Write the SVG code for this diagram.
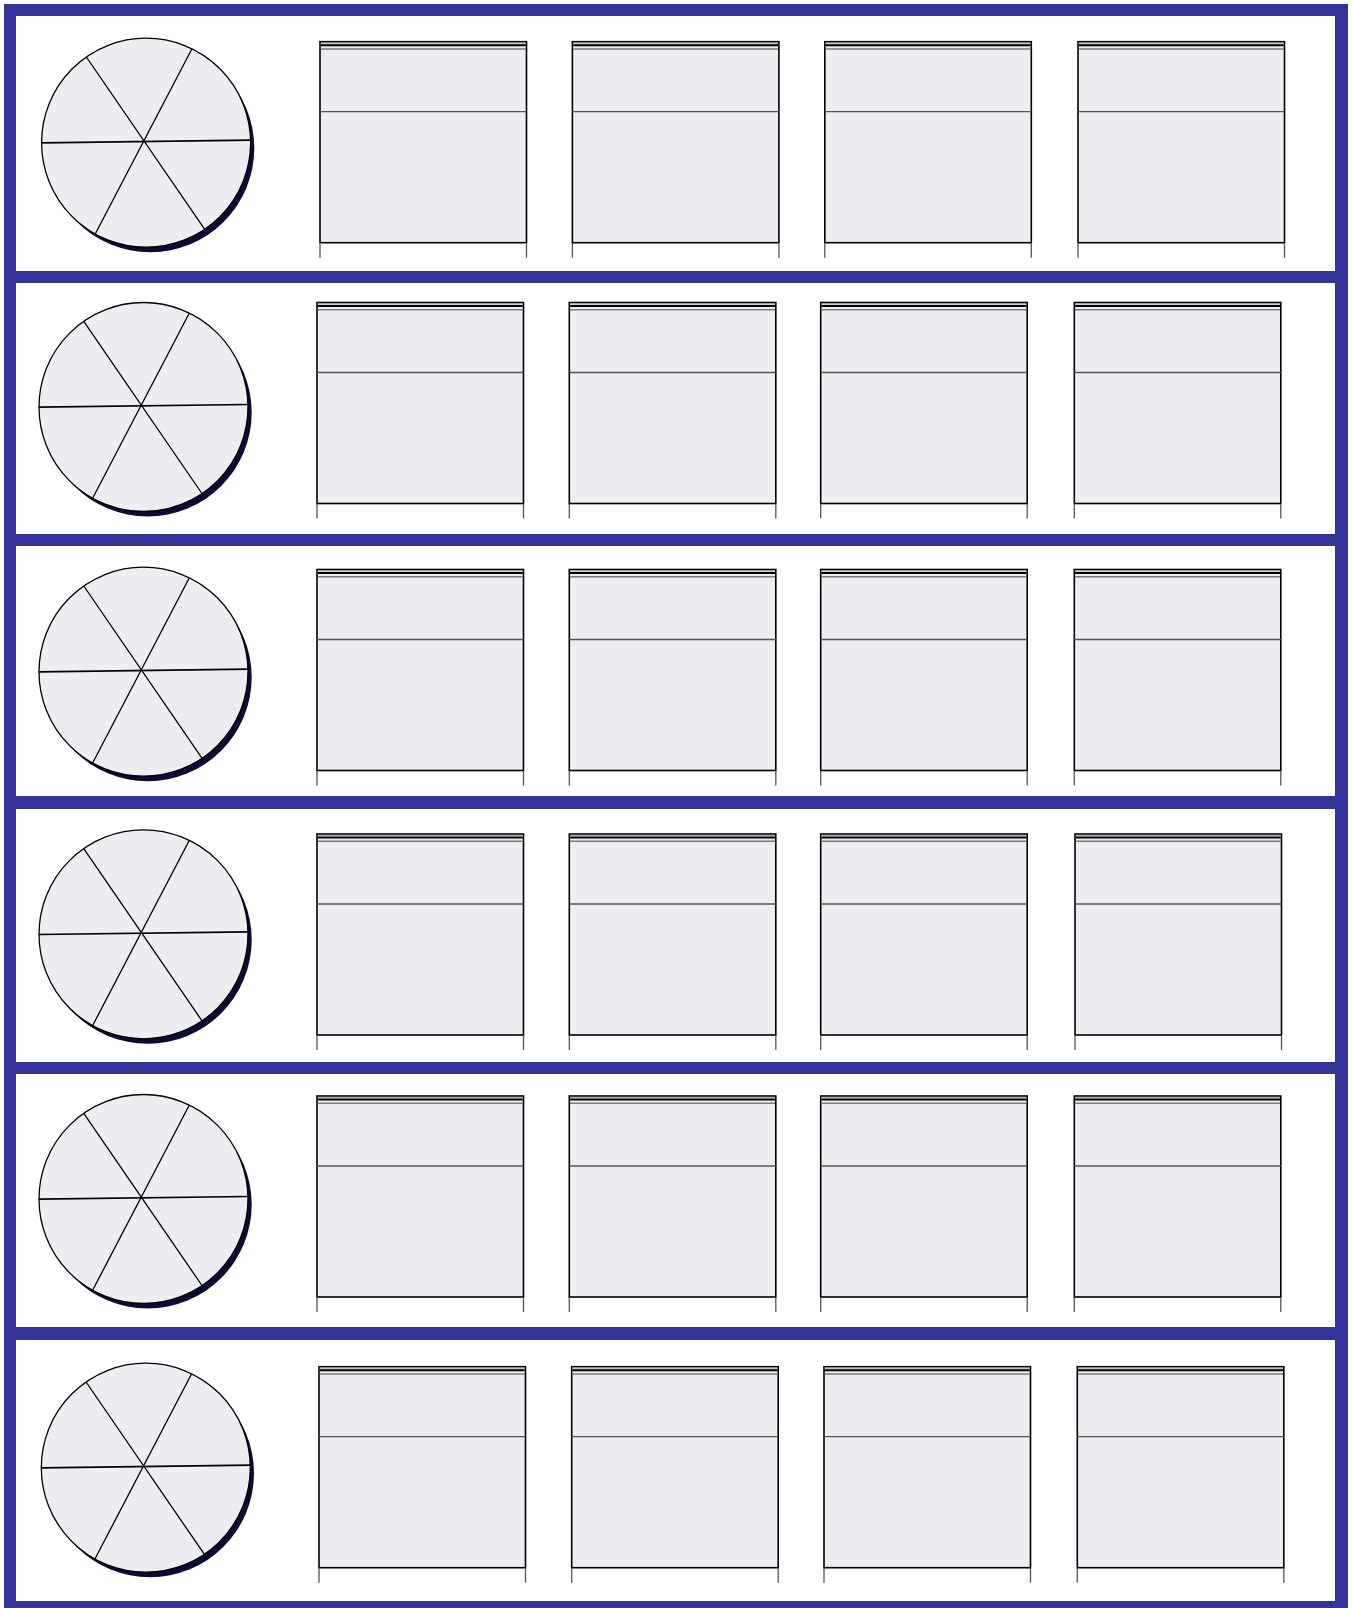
<svg xmlns="http://www.w3.org/2000/svg" xmlns:xlink="http://www.w3.org/1999/xlink" width="1352" height="1608" viewBox="0 0 1352 1608">
<style>
.frame{fill:#333399}
.face{fill:#ededf2;stroke:#000;stroke-width:1.3}
.shadow{fill:#0b0b35}
.spoke{stroke:#000;stroke-width:1.3;fill:none;stroke-linecap:round}
.hspoke{stroke:#000;stroke-width:1.7;fill:none}
.box{fill:#ededf2;stroke:#000;stroke-width:1.6}
.blk{stroke:#000;stroke-width:2;fill:none}
.gry{stroke:#7a7a7a;stroke-width:1.5;fill:none}
.lgt{stroke:#a0a0a0;stroke-width:1;fill:none}
.div{stroke:#555;stroke-width:1.3;fill:none}
.leg{stroke:#555;stroke-width:1.3;fill:none}
</style>
<defs>
<g id="pie">
<circle class="shadow" cx="6" cy="6.5" r="104"/>
<circle class="face" cx="1.8" cy="1" r="104.5"/>
<line class="hspoke" x1="-102.8" y1="1.2" x2="106.5" y2="-1.5"/>
<line class="spoke" x1="-57.6" y1="-84.2" x2="60.6" y2="88"/>
<line class="spoke" x1="47.4" y1="-92.5" x2="-49.2" y2="92.5"/>
</g>
<g id="cab">
<rect class="box" x="0" y="0" width="206.5" height="201"/>
<line class="lgt" x1="0.8" y1="1.4" x2="205.7" y2="1.4"/>
<line class="blk" x1="0.8" y1="3.6" x2="205.7" y2="3.6"/>
<line class="gry" x1="0.8" y1="7.2" x2="205.7" y2="7.2"/>
<line class="div" x1="0" y1="70" x2="206.5" y2="70"/>
<line class="leg" x1="0" y1="201" x2="0" y2="216"/>
<line class="leg" x1="206.5" y1="201" x2="206.5" y2="216"/>
</g>
</defs>
<g id="frame">
<rect class="frame" x="4" y="4" width="12" height="1604"/>
<rect class="frame" x="1335" y="4" width="13" height="1604"/>
<rect class="frame" x="4" y="4" width="1344" height="12"/>
<rect class="frame" x="4" y="271" width="1344" height="12"/>
<rect class="frame" x="4" y="534" width="1344" height="12"/>
<rect class="frame" x="4" y="796" width="1344" height="13"/>
<rect class="frame" x="4" y="1062" width="1344" height="12"/>
<rect class="frame" x="4" y="1327" width="1344" height="13"/>
<rect class="frame" x="4" y="1601" width="1344" height="7"/>
</g>
<g id="connectors"></g>
<g id="pie1"><use xlink:href="#pie" href="#pie" transform="translate(144.3,141.7)"/></g>
<g id="pie2"><use xlink:href="#pie" href="#pie" transform="translate(141.7,406)"/></g>
<g id="pie3"><use xlink:href="#pie" href="#pie" transform="translate(141.7,670.7)"/></g>
<g id="pie4"><use xlink:href="#pie" href="#pie" transform="translate(141.7,933.3)"/></g>
<g id="pie5"><use xlink:href="#pie" href="#pie" transform="translate(141.7,1198)"/></g>
<g id="pie6"><use xlink:href="#pie" href="#pie" transform="translate(144,1466.7)"/></g>
<g id="box1-1"><use href="#cab" xlink:href="#cab" transform="translate(320,41.7)"/></g>
<g id="box1-2"><use href="#cab" xlink:href="#cab" transform="translate(572.4,41.7)"/></g>
<g id="box1-3"><use href="#cab" xlink:href="#cab" transform="translate(824.8,41.7)"/></g>
<g id="box1-4"><use href="#cab" xlink:href="#cab" transform="translate(1078,41.7)"/></g>
<g id="box2-1"><use href="#cab" xlink:href="#cab" transform="translate(317,302.5)"/></g>
<g id="box2-2"><use href="#cab" xlink:href="#cab" transform="translate(569.3,302.5)"/></g>
<g id="box2-3"><use href="#cab" xlink:href="#cab" transform="translate(820.7,302.5)"/></g>
<g id="box2-4"><use href="#cab" xlink:href="#cab" transform="translate(1074.3,302.5)"/></g>
<g id="box3-1"><use href="#cab" xlink:href="#cab" transform="translate(317,569.5)"/></g>
<g id="box3-2"><use href="#cab" xlink:href="#cab" transform="translate(569.3,569.5)"/></g>
<g id="box3-3"><use href="#cab" xlink:href="#cab" transform="translate(820.7,569.5)"/></g>
<g id="box3-4"><use href="#cab" xlink:href="#cab" transform="translate(1074.3,569.5)"/></g>
<g id="box4-1"><use href="#cab" xlink:href="#cab" transform="translate(317,834)"/></g>
<g id="box4-2"><use href="#cab" xlink:href="#cab" transform="translate(569.3,834)"/></g>
<g id="box4-3"><use href="#cab" xlink:href="#cab" transform="translate(820.7,834)"/></g>
<g id="box4-4"><use href="#cab" xlink:href="#cab" transform="translate(1075,834)"/></g>
<g id="box5-1"><use href="#cab" xlink:href="#cab" transform="translate(317,1096)"/></g>
<g id="box5-2"><use href="#cab" xlink:href="#cab" transform="translate(569.3,1096)"/></g>
<g id="box5-3"><use href="#cab" xlink:href="#cab" transform="translate(820.7,1096)"/></g>
<g id="box5-4"><use href="#cab" xlink:href="#cab" transform="translate(1074.3,1096)"/></g>
<g id="box6-1"><use href="#cab" xlink:href="#cab" transform="translate(319,1366.7)"/></g>
<g id="box6-2"><use href="#cab" xlink:href="#cab" transform="translate(571.7,1366.7)"/></g>
<g id="box6-3"><use href="#cab" xlink:href="#cab" transform="translate(824,1366.7)"/></g>
<g id="box6-4"><use href="#cab" xlink:href="#cab" transform="translate(1077.3,1366.7)"/></g>
</svg>
